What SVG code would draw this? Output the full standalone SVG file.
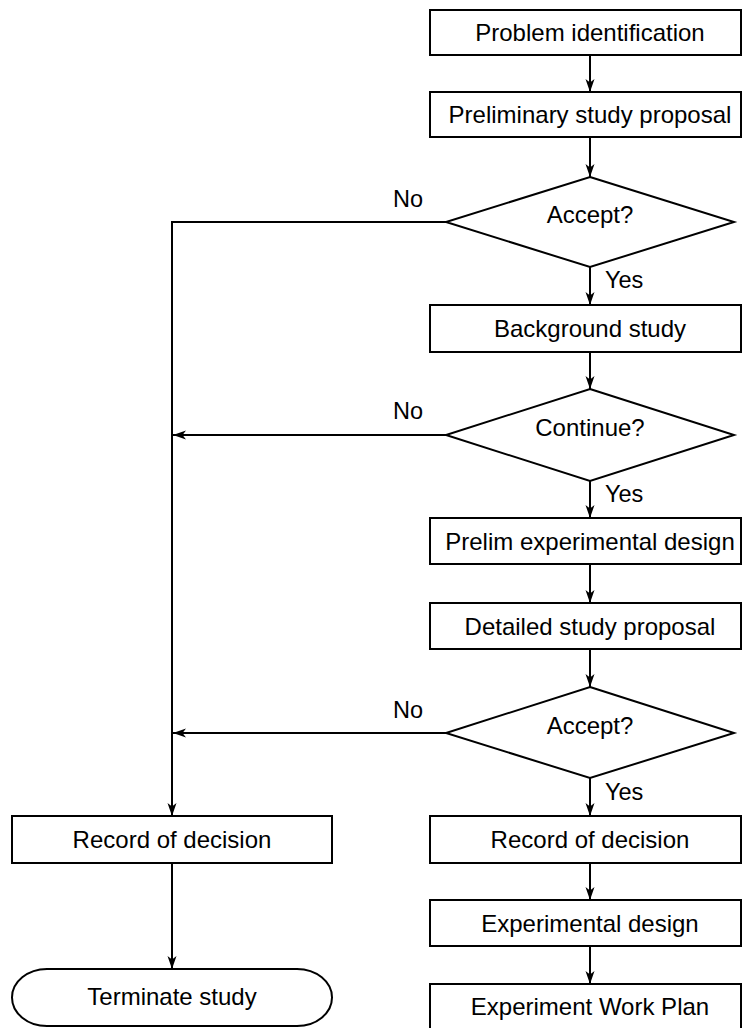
<svg xmlns="http://www.w3.org/2000/svg" width="742" height="1028" viewBox="0 0 742 1028">
<style>
.box{fill:#fff;stroke:#000;stroke-width:2}
.t{font-family:"Liberation Sans",Arial,sans-serif;font-size:24px;fill:#000;text-anchor:middle}
.lbl{font-family:"Liberation Sans",Arial,sans-serif;font-size:23.5px;fill:#000}
.c{fill:none;stroke:#000;stroke-width:2}
</style>
<defs>
<marker id="ah" markerUnits="userSpaceOnUse" markerWidth="14" markerHeight="10" refX="13" refY="4.5" orient="auto">
<path d="M0,0 L13,4.5 L0,9 L3.5,4.5 z" fill="#000"/>
</marker>
</defs>
<rect width="742" height="1028" fill="#fff"/>
<g id="connectors">
<line class="c" x1="590" y1="55" x2="590" y2="92" marker-end="url(#ah)"/>
<line class="c" x1="590" y1="137" x2="590" y2="177" marker-end="url(#ah)"/>
<line class="c" x1="590" y1="267" x2="590" y2="305" marker-end="url(#ah)"/>
<line class="c" x1="590" y1="352" x2="590" y2="389" marker-end="url(#ah)"/>
<line class="c" x1="590" y1="481" x2="590" y2="518" marker-end="url(#ah)"/>
<line class="c" x1="590" y1="564" x2="590" y2="603" marker-end="url(#ah)"/>
<line class="c" x1="590" y1="649" x2="590" y2="687" marker-end="url(#ah)"/>
<line class="c" x1="590" y1="778" x2="590" y2="816" marker-end="url(#ah)"/>
<line class="c" x1="590" y1="863" x2="590" y2="900" marker-end="url(#ah)"/>
<line class="c" x1="590" y1="946" x2="590" y2="984" marker-end="url(#ah)"/>
<polyline class="c" points="446,222 172,222 172,816" marker-end="url(#ah)"/>
<line class="c" x1="446" y1="435" x2="173" y2="435" marker-end="url(#ah)"/>
<line class="c" x1="446" y1="733" x2="173" y2="733" marker-end="url(#ah)"/>
<line class="c" x1="172" y1="863" x2="172" y2="969" marker-end="url(#ah)"/>
<text class="lbl" x="393" y="207">No</text>
<text class="lbl" x="393" y="419">No</text>
<text class="lbl" x="393" y="718">No</text>
<text class="lbl" x="605" y="288">Yes</text>
<text class="lbl" x="605" y="502">Yes</text>
<text class="lbl" x="605" y="800">Yes</text>
</g>
<g id="n1"><rect class="box" x="430" y="10" width="311" height="45"/><text class="t" x="590" y="41">Problem identification</text></g>
<g id="n2"><rect class="box" x="430" y="92" width="311" height="45"/><text class="t" x="590" y="123">Preliminary study proposal</text></g>
<g id="d1"><polygon class="box" points="590,177 734,222 590,267 446,222"/><text class="t" x="590" y="223">Accept?</text></g>
<g id="n3"><rect class="box" x="430" y="305" width="311" height="47"/><text class="t" x="590" y="337">Background study</text></g>
<g id="d2"><polygon class="box" points="590,389 734,435 590,481 446,435"/><text class="t" x="590" y="436">Continue?</text></g>
<g id="n4"><rect class="box" x="430" y="518" width="311" height="46"/><text class="t" x="590" y="550">Prelim experimental design</text></g>
<g id="n5"><rect class="box" x="430" y="603" width="311" height="46"/><text class="t" x="590" y="635">Detailed study proposal</text></g>
<g id="d3"><polygon class="box" points="590,687 734,733 590,778 446,733"/><text class="t" x="590" y="734">Accept?</text></g>
<g id="n6"><rect class="box" x="430" y="816" width="311" height="47"/><text class="t" x="590" y="848">Record of decision</text></g>
<g id="n7"><rect class="box" x="430" y="900" width="311" height="46"/><text class="t" x="590" y="932">Experimental design</text></g>
<g id="n8"><rect class="box" x="430" y="984" width="311" height="60"/><text class="t" x="590" y="1015">Experiment Work Plan</text></g>
<g id="n9"><rect class="box" x="12" y="816" width="320" height="47"/><text class="t" x="172" y="848">Record of decision</text></g>
<g id="n10"><rect class="box" x="12" y="969" width="320" height="57" rx="35" ry="28.5"/><text class="t" x="172" y="1005">Terminate study</text></g>
</svg>
